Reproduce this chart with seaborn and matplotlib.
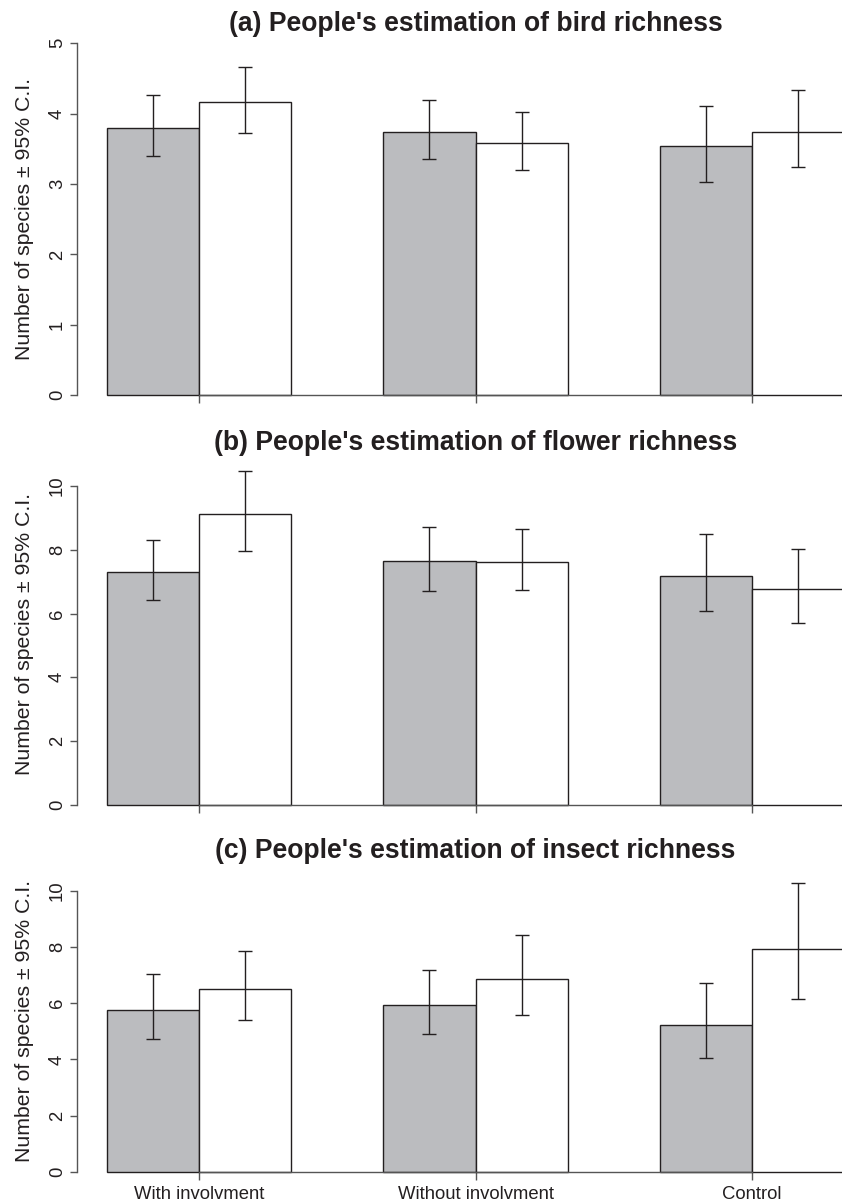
import pandas as pd
import matplotlib
matplotlib.use("Agg")
import matplotlib.pyplot as plt
import seaborn as sns

# categories and series
groups = ["With involvment", "Without involvment", "Control"]
series = ["Group 1", "Group 2"]

titles = ["(a) People's estimation of bird richness",
          "(b) People's estimation of flower richness",
          "(c) People's estimation of insect richness"]

# means and 95% C.I. bounds (series 1 = grey, series 2 = white)
bird_mean_1 = [3.80, 3.74, 3.54]
bird_mean_2 = [4.17, 3.59, 3.74]
bird_lo_1 = [3.40, 3.35, 3.03]
bird_lo_2 = [3.72, 3.20, 3.24]
bird_hi_1 = [4.26, 4.19, 4.11]
bird_hi_2 = [4.67, 4.02, 4.33]

flower_mean_1 = [7.30, 7.64, 7.18]
flower_mean_2 = [9.12, 7.62, 6.76]
flower_lo_1 = [6.42, 6.72, 6.08]
flower_lo_2 = [7.95, 6.73, 5.71]
flower_hi_1 = [8.30, 8.71, 8.49]
flower_hi_2 = [10.47, 8.65, 8.01]

insect_mean_1 = [5.77, 5.93, 5.22]
insect_mean_2 = [6.51, 6.86, 7.94]
insect_lo_1 = [4.72, 4.91, 4.07]
insect_lo_2 = [5.39, 5.59, 6.14]
insect_hi_1 = [7.05, 7.18, 6.73]
insect_hi_2 = [7.86, 8.41, 10.27]

y_ticks = [[0, 1, 2, 3, 4, 5], [0, 2, 4, 6, 8, 10], [0, 2, 4, 6, 8, 10]]

panels = [
    (bird_mean_1, bird_mean_2, bird_lo_1, bird_lo_2, bird_hi_1, bird_hi_2),
    (flower_mean_1, flower_mean_2, flower_lo_1, flower_lo_2, flower_hi_1, flower_hi_2),
    (insect_mean_1, insect_mean_2, insect_lo_1, insect_lo_2, insect_hi_1, insect_hi_2),
]

sns.set_style("ticks")
plt.rcParams["font.family"] = ["Liberation Sans", "DejaVu Sans"]

W, H = 842, 1203
fig = plt.figure(figsize=(W / 100, H / 100), dpi=100)

# axes boxes in pixels: (top, bottom, ylim top)
boxes = [(43.3, 395.3, 5.0), (462.0, 805.0, 10.75), (871.0, 1172.0, 10.7)]
left_px, right_px = 77, 874

TXT = "#231F20"
AX = "#555555"
GREY = "#BBBCBF"

for i, (box, vals) in enumerate(zip(boxes, panels)):
    top, bot, ytop = box
    ax = fig.add_axes([left_px / W, 1 - bot / H, (right_px - left_px) / W, (bot - top) / H])
    m1, m2, lo1, lo2, hi1, hi2 = vals
    df = pd.DataFrame({
        "group": groups * 2,
        "series": [series[0]] * 3 + [series[1]] * 3,
        "mean": m1 + m2,
    })
    sns.barplot(data=df, x="group", y="mean", hue="series", order=groups,
                hue_order=series, palette=[GREY, "white"], width=2 / 3,
                errorbar=None, edgecolor=TXT, linewidth=1.0, saturation=1,
                legend=False, ax=ax)
    for p in ax.patches:
        p.set_clip_on(False)

    los = [lo1, lo2]
    his = [hi1, hi2]
    means = [m1, m2]
    bar_conts = list(ax.containers)
    for k, cont in enumerate(bar_conts):
        xs = [b.get_x() + b.get_width() / 2 for b in cont]
        yerr = [[m - l for m, l in zip(means[k], los[k])],
                [h - m for m, h in zip(means[k], his[k])]]
        ax.errorbar(xs, means[k], yerr=yerr, fmt="none", ecolor=TXT,
                    elinewidth=1.0, capsize=5.3, capthick=1.0, zorder=5)

    ax.set_xlim(-0.44, 2.44)
    ax.set_ylim(0, ytop)
    ax.set_yticks(y_ticks[i])
    ax.set_yticklabels([str(t) for t in y_ticks[i]], rotation=90, va="center",
                       fontsize=13.3, color=TXT)
    ax.set_xticks(range(len(groups)))
    if i == 2:
        ax.set_xticklabels(groups, fontsize=13.3, color=TXT)
    else:
        ax.set_xticklabels([""] * len(groups))
    ax.tick_params(axis="both", direction="out", length=5.4, width=1.0, color=AX)
    ax.tick_params(axis="y", pad=2.5)
    ax.tick_params(axis="x", pad=4.6)
    ax.set_xlabel("")
    ax.set_ylabel("Number of species \u00b1 95% C.I.", fontsize=15.3, color=TXT)
    ax.yaxis.set_label_coords(-0.054, 0.5)
    ax.set_title(titles[i], fontsize=19.1, fontweight="bold", color=TXT, pad=9)

    sns.despine(ax=ax)
    ax.spines["left"].set_bounds(0, y_ticks[i][-1])
    ax.spines["bottom"].set_bounds(0, len(groups) - 1)
    for s in ("left", "bottom"):
        ax.spines[s].set_color(AX)
        ax.spines[s].set_linewidth(1.0)

fig.savefig("out.png", dpi=100)
